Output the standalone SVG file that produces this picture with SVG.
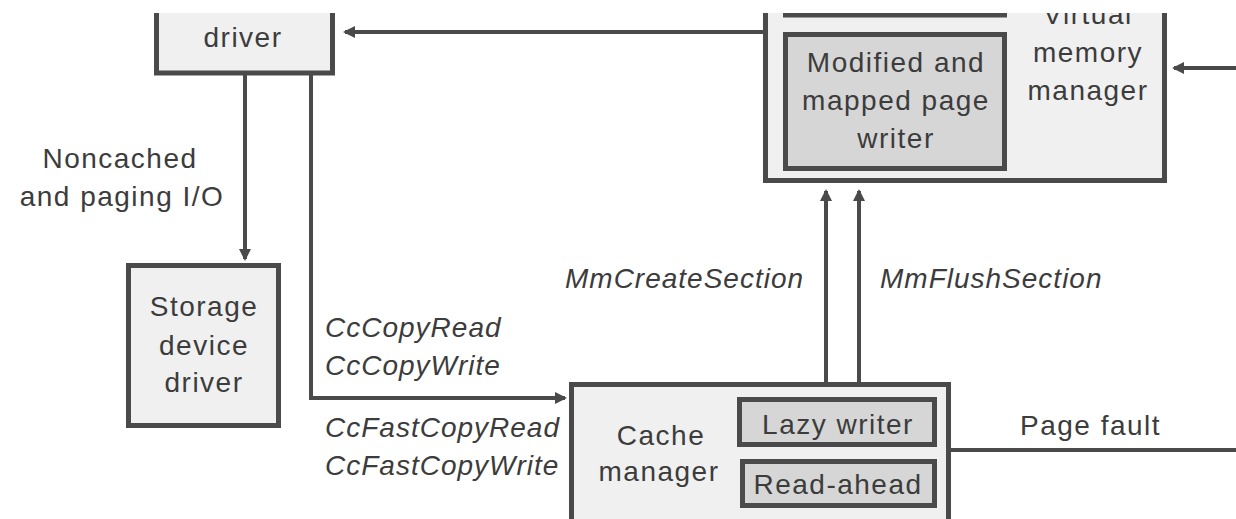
<svg xmlns="http://www.w3.org/2000/svg" width="1236" height="519" viewBox="0 0 1236 519">
<style>
.box{fill:#f0f0f0;stroke:#4a4a4a;stroke-width:5}
.inner{fill:#d6d6d6;stroke:#4a4a4a;stroke-width:5}
.t{font-family:"Liberation Sans",Arial,sans-serif;font-size:28px;fill:#3c3c3c;letter-spacing:1.5px}
.c{text-anchor:middle}
.i{font-style:italic;letter-spacing:1px}
.ln{fill:none;stroke:#4a4a4a;stroke-width:4}
</style>
<defs>
<marker id="ah" markerWidth="12" markerHeight="12" refX="10" refY="6" orient="auto" markerUnits="userSpaceOnUse">
<path d="M0,0 L12,6 L0,12 Z" fill="#4a4a4a"/>
</marker>
<clipPath id="view"><rect x="0" y="13" width="1236" height="506"/></clipPath>
</defs>
<rect width="1236" height="519" fill="#ffffff"/>
<g clip-path="url(#view)">
<g id="connectors">
<line class="ln" x1="763" y1="32" x2="345" y2="32" marker-end="url(#ah)"/>
<line class="ln" x1="1236" y1="68" x2="1174" y2="68" marker-end="url(#ah)"/>
<line class="ln" x1="245" y1="75" x2="245" y2="259" marker-end="url(#ah)"/>
<polyline class="ln" points="311,75 311,398 565,398" marker-end="url(#ah)"/>
<line class="ln" x1="826" y1="382" x2="826" y2="191" marker-end="url(#ah)"/>
<line class="ln" x1="859" y1="382" x2="859" y2="191" marker-end="url(#ah)"/>
<line class="ln" x1="950" y1="450" x2="1236" y2="450"/>
<text class="t c" x="120" y="168">Noncached</text>
<text class="t c" x="122" y="206">and paging I/O</text>
<text class="t i" x="325" y="337">CcCopyRead</text>
<text class="t i" x="325" y="375">CcCopyWrite</text>
<text class="t i" x="325" y="437">CcFastCopyRead</text>
<text class="t i" x="325" y="475">CcFastCopyWrite</text>
<text class="t i" x="565" y="288">MmCreateSection</text>
<text class="t i" x="880" y="288">MmFlushSection</text>
<text class="t" x="1020" y="435">Page fault</text>
</g>
<g id="driver">
<rect class="box" x="156.5" y="-20" width="176" height="93"/>
<text class="t c" x="243" y="47">driver</text>
</g>
<g id="storage-device-driver">
<rect class="box" x="128.5" y="265.5" width="150" height="160"/>
<text class="t c" x="204" y="316">Storage</text>
<text class="t c" x="204" y="355">device</text>
<text class="t c" x="204" y="392">driver</text>
</g>
<g id="virtual-memory-manager">
<rect class="box" x="765.5" y="-20" width="399" height="200.5"/>
<rect class="inner" x="785.5" y="-30" width="219" height="45"/>
<text class="t c" x="1088" y="24">Virtual</text>
<text class="t c" x="1088" y="62">memory</text>
<text class="t c" x="1088" y="100">manager</text>
</g>
<g id="modified-mapped-page-writer">
<rect class="inner" x="785.5" y="34.5" width="219" height="134"/>
<text class="t c" x="896" y="72">Modified and</text>
<text class="t c" x="896" y="110">mapped page</text>
<text class="t c" x="896" y="148">writer</text>
</g>
<g id="cache-manager">
<rect class="box" x="571.5" y="384.5" width="377" height="150"/>
<text class="t c" x="661" y="445">Cache</text>
<text class="t c" x="659" y="481">manager</text>
</g>
<g id="lazy-writer">
<rect class="inner" x="739.5" y="399.5" width="195" height="45"/>
<text class="t c" x="838" y="434">Lazy writer</text>
</g>
<g id="read-ahead">
<rect class="inner" x="742.5" y="461.5" width="192" height="44"/>
<text class="t c" x="838" y="494">Read-ahead</text>
</g>
</g>
</svg>
